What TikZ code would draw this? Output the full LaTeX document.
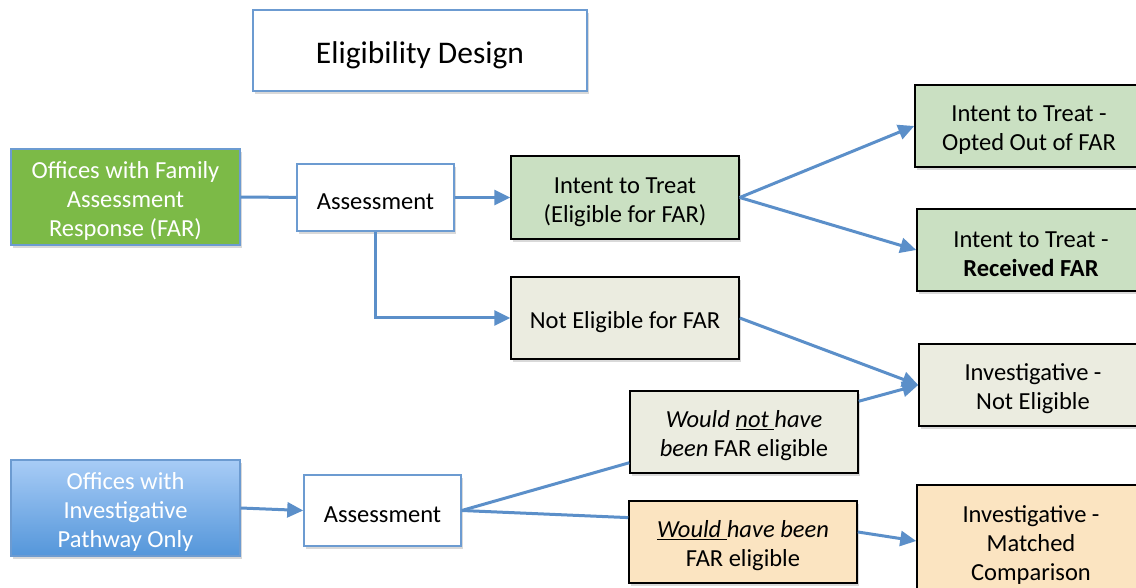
\documentclass[tikz,border=0pt]{standalone}
\usepackage{fontspec}
\setmainfont{Carlito}
\usetikzlibrary{arrows.meta,shadows}
\definecolor{linkblue}{RGB}{91,143,201}
\definecolor{edgeblue}{RGB}{108,155,209}
\definecolor{fargreen}{RGB}{124,186,71}
\definecolor{ittgreen}{RGB}{202,224,194}
\definecolor{paleolive}{RGB}{235,236,224}
\definecolor{paleorange}{RGB}{251,228,193}
\definecolor{invtop}{RGB}{168,204,246}
\definecolor{invbot}{RGB}{84,150,218}
% strut that gives a first line the full ascent of its font
\newcommand{\topstrut}{\rule{0pt}{1em}}
\tikzset{
  x=1pt, y=-1pt,
  every node/.style={font=\fontsize{24.5}{29}\selectfont, align=center, inner sep=2pt,
    execute at begin node=\topstrut},
  softshadow/.style={drop shadow={shadow xshift=2pt, shadow yshift=-3pt, opacity=0.25, fill=black!60}},
  bluebox/.style={draw=edgeblue, line width=1.5pt, fill=white, softshadow},
  blackbox/.style={draw=black, line width=1.5pt, softshadow},
  link/.style={draw=linkblue, line width=3pt},
  arrowlink/.style={link, -{Triangle[length=16pt,width=15pt]}},
}
\begin{document}
\begin{tikzpicture}
\useasboundingbox (0,0) rectangle (1136,588);
\clip (0,0) rectangle (1136,588);

% title
\node[bluebox, minimum width=334pt, minimum height=81pt,
      font=\fontsize{31.5}{36}\selectfont] (title) at (420,50.5) {Eligibility Design};

% office sources
\node[draw=edgeblue, line width=1.5pt, fill=fargreen, text=white, softshadow,
      minimum width=229pt, minimum height=96pt] (far) at (125.5,197)
      {\topstrut Offices with Family\\Assessment\\Response (FAR)};
\node[draw=edgeblue, line width=1.5pt, top color=invtop, bottom color=invbot, text=white, softshadow,
      minimum width=229pt, minimum height=96pt] (inv) at (125.5,508)
      {\topstrut Offices with\\Investigative\\Pathway Only};

% assessments
\node[bluebox, minimum width=157pt, minimum height=67pt] (asA) at (375.5,197.5) {Assessment};
\node[bluebox, minimum width=157pt, minimum height=71pt] (asB) at (382.5,510.5) {Assessment};

% eligibility split
\node[blackbox, fill=ittgreen, minimum width=228pt, minimum height=83pt] (itt) at (625,197.5)
      {\topstrut Intent to Treat\\(Eligible for FAR)};
\node[blackbox, fill=paleolive, minimum width=228pt, minimum height=82pt] (ne) at (625,318)
      {Not Eligible for FAR};
\node[blackbox, fill=paleolive, minimum width=228pt, minimum height=82pt] (wn) at (744,432)
      {\topstrut\textit{Would \underline{not }have}\\\textit{been} FAR eligible};
\node[blackbox, fill=paleorange, minimum width=228pt, minimum height=82pt] (wh) at (743,542)
      {\topstrut\textit{\underline{Would }have been}\\FAR eligible};

% outcome groups
\node[blackbox, fill=ittgreen, minimum width=228pt, minimum height=82pt] (oo) at (1029,126)
      {\topstrut Intent to Treat -\\Opted Out of FAR};
\node[blackbox, fill=ittgreen, minimum width=228pt, minimum height=82pt] (rf) at (1031,250)
      {\topstrut Intent to Treat -\\\textbf{Received FAR}};
\node[blackbox, fill=paleolive, minimum width=228pt, minimum height=82pt] (ine) at (1033,385)
      {\topstrut Investigative -\\Not Eligible};
\node[blackbox, fill=paleorange, minimum width=228pt, minimum height=112pt] (im) at (1031,541)
      {\topstrut Investigative -\\Matched\\Comparison};

% connectors
\draw[link] (far.east) -- (asA.west);
\draw[arrowlink] (asA.east) -- (itt.west);
\draw[arrowlink] (asA.south) |- (ne.west);
\draw[arrowlink] (itt.east) -- (oo.west);
\draw[arrowlink] (itt.east) -- (rf.west);
\draw[arrowlink] (ne.east) -- (ine.west);
\draw[arrowlink] (wn.15) -- (ine.west);
\draw[arrowlink] (inv.east) -- (asB.west);
\draw[link] (asB.east) -- (wn.195);
\draw[link] (asB.east) -- (wh.168);
\draw[arrowlink] (wh.5) -- (im.west);
\end{tikzpicture}
\end{document}
